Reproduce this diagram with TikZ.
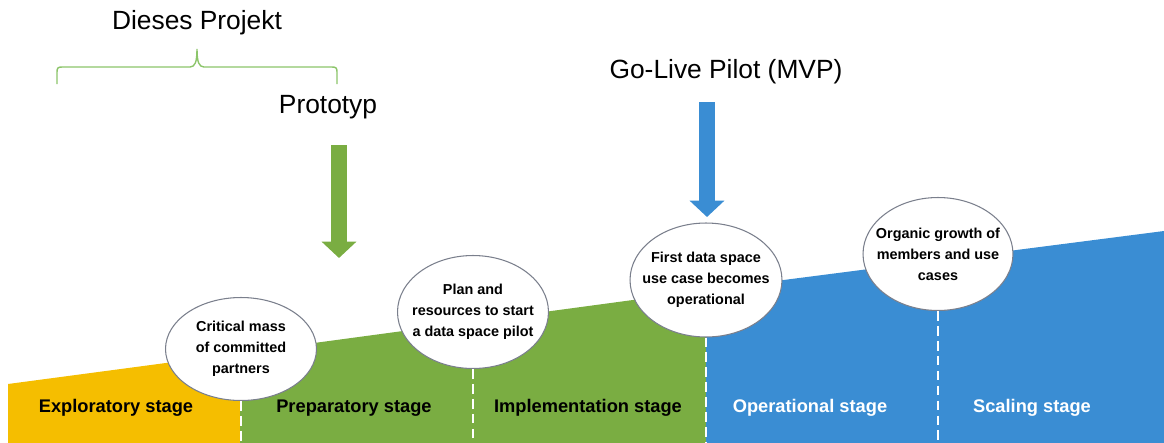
\documentclass[tikz,border=0pt]{standalone}
\usepackage{fontspec}
\setmainfont{Liberation Sans}
\usetikzlibrary{arrows.meta,shapes.geometric}

\definecolor{stageyellow}{HTML}{F5BE00}
\definecolor{stagegreen}{HTML}{7AAD42}
\definecolor{stageblue}{HTML}{3A8DD3}
\definecolor{bracegreen}{HTML}{8CC56A}
\definecolor{rimgray}{HTML}{7A7F8C}

\begin{document}
\begin{tikzpicture}[x=0.02cm,y=-0.02cm,semithick,
                    >={Triangle[width=19.3pt,length=9.3pt]}]
  \tikzstyle{milestone}=[ellipse,draw=rimgray,line width=0.6pt,fill=white,inner xsep=-7pt,inner ysep=0pt,
                         align=center,font=\fontsize{8.2}{12}\selectfont\bfseries]
  \tikzstyle{stagelabel}=[font=\fontsize{10.4}{12}\selectfont\bfseries]
  \tikzstyle{toplabel}=[font=\fontsize{15}{18}\selectfont]
  \tikzstyle{stagesep}=[white,line width=1.3pt,dash pattern=on 5.5pt off 3pt]
  \tikzstyle{bigarrow}=[->,line width=9.6pt]

  \useasboundingbox (0,0) rectangle (1164,443);

  % the three coloured bands
  \fill[stageyellow] (8,443) -- (8,384) -- (241,353) -- (241,443) -- cycle;
  \fill[stagegreen]  (240,443) -- (240,353) -- (707,290) -- (707,443) -- cycle;
  \fill[stageblue]   (706,443) -- (706,290) -- (1164,231) -- (1164,443) -- cycle;

  \node[stagelabel]       (explore) at (116,408)  {Exploratory stage};
  \node[stagelabel]       (prepare) at (354,408)  {Preparatory stage};
  \node[stagelabel]       (implement) at (588,408) {Implementation stage};
  \node[stagelabel,white] (operate) at (810,408)  {Operational stage};
  \node[stagelabel,white] (scale)   at (1032,408) {Scaling stage};

  % milestones
  \node[milestone,minimum width=3.02cm,minimum height=2.06cm] (mass)   at (241,349) {Critical mass\\of committed\\partners};
  \node[milestone,minimum width=3.02cm,minimum height=2.26cm] (plan)   at (473,312) {Plan and\\resources to start\\a data space pilot};
  \node[milestone,minimum width=3.04cm,minimum height=2.28cm] (golive) at (706,280) {First data space\\use case becomes\\operational};
  \node[milestone,minimum width=3.00cm,minimum height=2.26cm] (growth) at (938,254) {Organic growth of\\members and use\\cases};

  \draw[stagesep] (mass.south)   -- (mass.south |- 0,443);
  \draw[stagesep] (plan.south)   -- (plan.south |- 0,443);
  \draw[stagesep] (golive.south) -- (golive.south |- 0,443);
  \draw[stagesep] (growth.south) -- (growth.south |- 0,443);

  % labels on top
  \node[toplabel] (project) at (197,23)  {Dieses Projekt};
  \node[toplabel] (proto)   at (328,107) {Prototyp};
  \node[toplabel] (mvp)     at (726,72)  {Go-Live Pilot (MVP)};

  \coordinate (braceL)   at (57,84);
  \coordinate (braceR)   at (337,84);
  \coordinate (bracetip) at (197,49);
  \draw[bracegreen,line width=0.8pt] (braceL) -- (57,72) .. controls (57,68) and (58,67) .. (62,67)
    -- (190,67) .. controls (195,67) and (197,62) .. (bracetip)
    .. controls (197,62) and (199,67) .. (204,67) -- (332,67)
    .. controls (336,67) and (337,68) .. (337,72) -- (braceR);

  \coordinate (protostart) at (339,145);
  \coordinate (prototip)   at (339,258);
  \coordinate (mvpstart)   at (707,102);
  \coordinate (mvptip)     at (707,217);
  \draw[bigarrow,stagegreen] (protostart) -- (prototip);
  \draw[bigarrow,stageblue]  (mvpstart) -- (mvptip);
\end{tikzpicture}
\end{document}
